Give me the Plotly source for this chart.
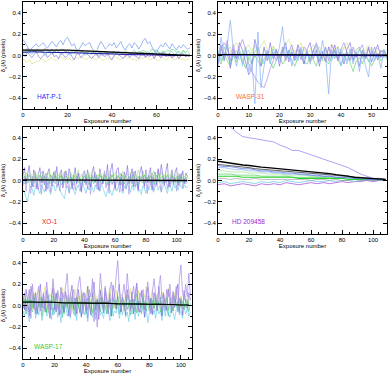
import plotly.graph_objects as go

# all series values are in units of 0.01 pixel

# ---------------- HAT-P-1 ----------------
hat_blue = [15, 12, 8, 5, 7, 9, 11, 8, 10, 12, 9, 7, 10, 13, 11, 8, 12, 14, 10, 15, 17, 13, 9, 11, 6, 5, 8, 12, 9, 11,
            12, 7, 4, 3, 9, 13, 10, 6, 8, 11, 9, 12, 7, 10, 13, 8, 5, 9, 11, 7, 12, 10, 6, 9, 14, 16, 11, 13, 8, 5,
            2, 7, 10, 8, 12, 9, 6, 11, 8, 5, 9, 7, 10, 8, 6, 7]
hat_green = [5, 4, 6, 3, 5, 4, 6, 5, 3, 4, 6, 5, 4, 5, 3, 6, 4, 5, 6, 4, 3, 5, 4, 2, 4, 5, 3, 4, 2, 3,
             4, 2, 3, 1, 3, 2, 4, 3, 1, 2, 3, 4, 2, 3, 1, 2, 4, 3, 2, 1, 3, 2, 4, 3, 5, 4, 2, 3, 6, 4,
             5, 3, 2, 4, 3, 5, 4, 6, 5, 3, 4, 2, 5, 3, 4, 2]
hat_yellow = [-3, -5, -6, -4, -8, -7, -5, -6, -3, -4, -6, -5, -3, -2, -4, -5, -3, -1, -3, -4, -2, -3, -5, -4, -2, -3,
              -1, -2, -4, -3, -2, -1, -3, -4, -2, -3, -5, -3, -2, -4, -3, -1, -2, -3, -4, -2, -1, -3, -2, -4, -3,
              -5, -4, -2, -3, -1, -2, -4, -3, -2, -4, -5, -3, -2, -4, -3, -1, -2, -4, -3, -2, -4, -3, -5, -3, -4]
hat_purple = [2, -1, 3, 0, -2, 1, 4, -1, -3, 0, 2, -2, 1, 3, -1, 0, -3, 2, 1, -2, 0, 3, -1, -4, 1, 2, -2, 0, 3, 1,
              -1, -3, 0, 2, -2, 1, 0, -1, 3, -2, -4, 0, 2, 1, -1, -3, 0, 1, -2, 2, 0, -1, -3, 1, 3, -2, 0, -1, 2,
              -3, 1, 0, -2, 3, -1, 0, 2, -2, -1, 1, -3, 0, 2, -1, 0, 1]
hat_cyan = [4, 2, 5, 3, 1, 4, 2, 3, 5, 2, 0, 3, 4, 1, 2, 5, 3, 1, 2, 4, 3, 0, 2, 3, 5, 1, 2, 4, 0, 3,
            2, 1, 4, 2, 0, 3, 1, 2, 4, 1, 3, 0, 2, 4, 1, 3, 2, 0, 1, 3, 5, 2, 1, 3, 0, 2, 4, 1, 3, 2,
            5, 3, 1, 4, 2, 0, 3, 4, 1, 2, 3, 1, 4, 2, 0, 1]
hat_pink = [6, 5, 7, 4, 6, 5, 3, 6, 4, 5, 7, 5, 4, 6, 3, 5, 4, 6, 5, 3, 4, 2, 5, 4, 3, 1, 4, 3, 2, 4,
            1, 3, 2, 0, 3, 2, 1, 3, 0, 2, 1, 3, 2, 0, 1, 2, -1, 1, 2, 0, 1, -1, 2, 0, 1, -1, 0, 2, 1, -1,
            0, 1, -2, 0, 1, -1, 0, -2, 1, 0, -1, 0, 1, -1, 0, -1]
hat_trend_x = [0, 5, 10, 15, 20, 25, 30, 35, 40, 45, 50, 55, 60, 65, 70, 75]
hat_black = [5, 5, 5, 5.5, 5, 4.5, 4, 3.5, 3, 2.5, 2, 1.5, 1, 0.5, 0.5, 0]
hat_navy = [3, 3.5, 3, 3, 2.5, 2.5, 2, 2, 1.5, 1, 1, 0.5, 0.5, 0, 0, 0]

# ---------------- WASP-31 ----------------
w31_blue = [-5, 17, 0, 10, 33, 5, -10, 2, -8, 8, -15, -5, -45, 22, -30, -10, 5, -8, 3, -5, 8, 27, -2, 5, -10, 2, -5, 8,
            -3, 5, -8, 3, 10, -5, 14, 0, -36, 5, -3, 8, -10, 2, -5, 6, -8, 3, -15, 5, -10, -20, 8, -5, 2, -12, 5, -3]
w31_purple = [-10, 5, 12, 8, -5, 10, -3, 8, 15, 5, -8, -15, -20, -25, -28, -30, -22, -12, -5, 5, -3, 8, -5, 3, 10, -2,
              6, -4, 8, 3, -6, 5, 12, 4, -3, 8, -5, 10, 2, -4, 6, 12, 3, -5, 8, -2, 5, 10, -3, 6, 0, 8, -4, 5, 2, -2]
w31_yellow = [8, 4, 10, 6, 2, 8, 12, 5, 0, 6, 10, 4, -2, 5, 8, 14, 6, 2, 9, 4, -3, 6, 10, 15, 8, 3, 7, 12, 5, 0,
              6, 10, 4, 8, 2, -4, 6, 11, 5, 9, 3, 7, 12, 4, -6, 5, 8, 2, 6, 10, 4, 0, 7, 3, 5, 4]
w31_green = [-3, -8, 2, -5, -10, 0, -6, 3, -4, -12, -2, -8, 0, -5, -10, -3, 2, -6, -12, -4, 0, -8, -3, 5, -5, -10, -2,
             3, -6, -8, 0, -4, -10, 2, -5, -3, -8, 0, 5, -4, -9, -2, 3, -7, -15, -5, -2, -8, 0, -4, -10, -3, 2, -5, -1, -4]
w31_cyan = [5, -5, 8, 0, -8, 3, -3, 6, -10, 2, 5, -6, 3, 8, -2, -8, 4, -4, 6, 0, -6, 3, 8, -3, 5, -5, 0, 6, -8, 2,
            -4, 5, 0, -6, 3, 7, -2, -5, 4, -3, 6, 0, -8, 3, -4, 5, 8, -3, 2, -6, 4, 0, -4, 3, 6, -2]
w31_ltgreen = [2, 6, -3, 4, 8, 0, 5, -4, 3, 7, -2, 4, 10, 2, -5, 6, 3, -2, 8, 4, 0, 5, -3, 2, 7, 4, -2, 6, 0, 3,
               -5, 4, 8, 2, -3, 5, 1, 6, -2, 4, 0, 8, 3, -4, 5, 2, 6, -1, 3, 7, 0, 4, -2, 5, 3, 1]
w31_violet = [-8, 10, -5, 14, -12, 6, -3, 12, 5, -8, -18, -12, 15, 3, -10, 8, -5, 12, -3, 6, -10, 4, 12, -6, 3, -4,
              10, 0, -8, 6, 12, -3, 5, -10, 4, -6, 8, -2, 10, -5, 3, -8, 6, 12, -4, 2, -10, 5, -3, 8, -6, 3, 10, -2, 4, 0]
w31_trend_x = [0, 5, 10, 15, 20, 25, 30, 35, 40, 45, 50, 55]
w31_black = [1, 1, 1, 1, 1, 1, 0.5, 0.5, 0.5, 0.5, 0.5, 0.5]
w31_navy = [0.5, 0.5, 0, 0.5, 0, 0, 0, 0, 0, 0, 0, 0]

# ---------------- XO-1 ----------------
xo_purple = [5, 12, -3, 8, 14, 2, -6, 10, 4, -8, 6, 12, -2, 9, 3, -10, 7, 11, 0, -5, 8, 2, 13, -4, 6, 10, -7, 3, 9, -2,
             11, 5, -8, 4, 12, -3, 7, 1, -10, 6, 9, -4, 10, 3, -6, 8, 13, -2, 5, -9, 11, 4, -3, 7, 2, 15, -5, 9, 16, 3,
             -7, 10, 12, -4, 6, -10, 8, 2, 14, -3, 5, 11, -6, 9, 1, -8, 7, 13, 3, -5, 10, -2, 6, 12, -9, 4, 8, -3, 11,
             2, 15, 7, -4, 9, 16, -6, 3, 10, -2, 8, 12, -5, 6, 1, 9, -3, 7, 4]
xo_violet = [-5, 3, -10, 6, -2, -12, 4, -6, 8, -3, -9, 2, -13, 5, -4, 7, -8, 1, -11, 4, -2, 9, -6, -1, -10, 5, -3, 8,
             -7, 2, -12, 6, -4, 3, -9, 1, 7, -5, -11, 4, -2, 6, -8, 3, -13, 5, -1, 8, -6, 2, -10, 4, -3, 9, -7, 1, -12,
             6, -4, 2, -9, 5, -2, -11, 7, -5, 3, -8, 1, -13, 6, -3, 8, -6, 2, -10, 4, -1, 9, -7, 3, -12, 5, -4, 7, -9,
             2, -5, 10, -3, -11, 6, -2, 4, -8, 1, -6, 8, -4, 3, -10, 5, -2, 7, -7, 1, -3, 4]
xo_cyan = [-8, -12, -15, -20, -10, -5, -8, -14, -6, -3, -9, -12, -4, -7, -11, -5, -2, -8, -13, -6, -4, -10, -7, -3, -9,
           -12, -14, -17, -8, -5, -11, -6, -3, -9, -13, -7, -4, -10, -6, -2, -8, -12, -5, -9, -3, -7, -11, -4, -8, -6,
           -10, -3, -7, -13, -15, -9, -5, -11, -14, -8, -4, -10, -6, -3, -9, -12, -5, -8, -2, -7, -11, -4, -9, -6, -3,
           -10, -8, -13, -5, -7, -12, -4, -9, -3, -8, -11, -6, -2, -9, -5, -10, -7, -3, -8, -12, -4, -6, -10, -2, -7,
           -5, -9, -3, -6, -8, -4, -7, -5]
xo_green = [2, 4, 1, 3, 5, 2, 0, 3, 4, 1, 2, 5, 3, 1, 4, 2, 0, 3, 5, 2, 1, 4, 3, 0, 2, 5, 1, 3, 4, 2, 0, 3, 1, 5, 2, 4,
            1, 3, 0, 2, 4, 3, 1, 5, 2, 0, 3, 4, 1, 2, 5, 3, 0, 2, 4, 1, 3, 2, 5, 1, 0, 3, 4, 2, 1, 5, 3, 0, 2, 4, 1, 3,
            5, 2, 0, 4, 1, 3, 2, 5, 1, 3, 0, 4, 2, 1, 3, 5, 2, 0, 3, 4, 1, 2, 5, 3, 1, 4, 2, 0, 3, 1, 4, 2, 3, 1, 2, 3]
xo_teal = [-1, -3, 0, -2, 1, -1, -4, 0, -2, -3, 1, -1, -2, 0, -4, -1, 1, -3, -2, 0, -1, -3, 1, -2, 0, -4, -1, -2, 1, -3,
           0, -1, -2, -4, 0, 1, -2, -1, -3, 0, -2, 1, -1, -4, -2, 0, -3, 1, -1, -2, 0, -3, -1, 1, -2, -4, 0, -1, -3, -2,
           1, 0, -2, -1, -4, 0, -3, -1, 1, -2, 0, -3, -1, -2, 1, -4, 0, -1, -2, -3, 0, 1, -2, -1, -3, 0, -4, -1, 1, -2,
           0, -3, -1, -2, 1, 0, -3, -2, -1, 0, -2, -1, -3, 0, -1, -2, 0, -1]
xo_ltgreen = [6, 3, 8, 2, 5, 7, 1, 4, 9, 3, 6, 2, 8, 5, 1, 7, 4, 9, 2, 6, 3, 8, 0, 5, 7, 2, 4, 9, 3, 6, 1, 8, 5, 2, 7,
              4, 10, 3, 6, 1, 8, 4, 2, 7, 5, 9, 3, 1, 6, 4, 8, 2, 5, 7, 0, 4, 9, 3, 6, 2, 8, 5, 1, 7, 3, 9, 4, 2, 6, 5,
              8, 1, 4, 7, 3, 10, 5, 2, 6, 4, 8, 1, 3, 7, 5, 9, 2, 4, 6, 1, 8, 3, 5, 7, 2, 6, 4, 9, 1, 5, 3, 7, 4, 2, 6,
              3, 5, 4]
xo_trend_x = [0, 10, 20, 30, 40, 50, 60, 70, 80, 90, 100, 107]
xo_black = [0.5, 0.5, 0.5, 0.5, 0, 0, 0, 0, 0, 0, 0, 0]

# ---------------- HD 209458 ----------------
hd_x = [0, 4, 8, 12, 16, 20, 24, 28, 32, 36, 40, 44, 48, 52, 56, 60, 64, 68, 72, 76, 80, 84, 88, 92, 96, 100, 104, 108]
hd_lav = [58, 55, 50, 45, 41, 40, 39, 38, 37, 36, 33, 31, 28, 28, 26, 24, 22, 20, 18, 16, 14, 12, 9, 6, 4, 2, 2, 1]
hd_black = [18, 17, 16, 15.5, 14.5, 14, 13, 12.5, 12, 11.5, 11, 10.5, 10, 9, 8.5, 8, 7.5, 7, 6.5, 5.5, 5, 4, 3, 2.5,
            2, 1.5, 1, 1]
hd_gray = [15, 14.5, 14, 13, 12.5, 12, 11, 10.5, 10, 9.5, 9, 8.5, 8, 7.5, 7, 6.5, 6, 5.5, 5, 4.5, 4, 3.5, 3, 2.5, 2,
           1.5, 1, 1]
hd_blue = [14, 13, 13, 12, 11, 11, 10, 9, 9, 8, 8, 7, 7, 6, 6, 5, 5, 4, 4, 3, 3, 3, 2, 2, 1, 1, 1, 1]
hd_ltblue = [12, 12, 11, 10, 10, 9, 9, 8, 8, 7, 7, 6, 6, 6, 5, 5, 4, 4, 4, 3, 3, 2, 2, 2, 1, 1, 1, 1]
hd_green1 = [9, 9, 8, 8, 8, 7, 7, 7, 6, 6, 6, 5, 5, 5, 5, 4, 4, 4, 3, 3, 3, 3, 2, 2, 2, 1, 1, 1]
hd_green2 = [6, 6, 6, 5, 5, 5, 5, 4, 4, 4, 4, 4, 3, 3, 3, 3, 3, 3, 2, 2, 2, 2, 2, 1, 1, 1, 1, 1]
hd_lime = [4, 4, 4, 4, 3, 3, 3, 3, 3, 3, 3, 3, 3, 2, 2, 2, 2, 2, 2, 2, 2, 1, 1, 1, 1, 1, 1, 1]
hd_cyan = [-2, -1, -3, -2, -1, -2, -3, -1, -2, -1, -2, 0, -1, -2, -1, 0, -1, -1, 0, -1, 0, 0, -1, 0, 1, 0, 0, 0]
hd_violet = [-4, -3, -5, -4, -3, -4, -5, -3, -4, -3, -4, -2, -3, -4, -3, -2, -3, -2, -3, -2, -1, -2, -1, -1, 0, -1, 0, 0]
hd_gray2 = [2, 2, 1, 2, 1, 1, 2, 1, 1, 1, 1, 1, 1, 1, 1, 0, 1, 1, 0, 1, 0, 0, 1, 0, 0, 0, 0, 0]

# ---------------- WASP-17 ----------------
w17_lav = [5, 12, -5, 8, 15, -12, 20, 3, -8, 10, 18, -5, 6, 12, -3, 22, 8, -10, 5, 25, 10, -6, 14, 3, -8, 12, 6, 18,
           30, 4, -10, 8, 15, -4, 10, 20, 27, 5, -8, 12, 6, -12, 15, 8, 25, -15, 5, -20, 10, 30, 12, -5, 18, 6, -8, 15,
           22, 4, 10, 28, 42, 15, -3, 10, 20, 6, 30, 12, -5, 8, 18, 4, 20, -6, 12, 8, 15, -4, 10, 22, 5, -8, 14, 25, 10,
           -3, 18, 28, 6, 12, -5, 15, 8, 20, -2, 10, 5, 18, -6, 25, 38, 12, 5, 20, 8, 30, 10]
w17_violet = [8, -4, 15, 2, -10, 18, 6, -3, 12, -8, 5, 20, -2, 10, -6, 14, 3, -12, 8, 16, -4, 11, 2, -9, 17, 5, -6, 13,
              0, -10, 9, 19, -3, 7, -8, 15, 4, -11, 12, 6, -5, 18, 1, -9, 10, 22, -4, 6, -13, 14, 3, -7, 16, 8, -2, 11,
              -10, 19, 5, -3, 12, 20, -6, 8, 2, -9, 15, 4, -4, 13, -8, 10, 21, 0, -6, 14, 5, -11, 9, 17, -2, 7, -8, 12,
              3, -5, 18, 6, -10, 11, 1, -4, 15, 8, -7, 13, -2, 10, 20, -5, 6, -9, 14, 3, -3, 12, 5]
w17_cyan = [-5, -10, 2, -8, -15, 0, -6, 4, -12, -3, -9, 3, -14, -5, 1, -10, -7, 5, -13, -2, -8, 2, -11, -4, -16, 0, -7,
            3, -10, -5, -12, 1, -8, -3, -14, 4, -6, -10, 0, -9, -4, -15, 2, -7, -11, -1, -13, -5, 3, -9, -6, -12, 0, -8,
            -3, -14, 2, -10, -5, -7, 1, -12, -4, -9, 3, -11, -6, -15, 0, -8, -2, -13, 4, -10, -5, -7, 1, -11, -3, -16,
            -6, 2, -9, -4, -12, 0, -8, -5, -14, 3, -10, -2, -7, -11, 1, -6, -13, -4, 2, -9, -5, -12, 0, -8, -3, -10, -6]
w17_yellow = [4, 10, -2, 8, 14, 3, -5, 12, 6, 0, 15, 5, -3, 9, 18, 2, -6, 11, 7, 20, 3, -4, 13, 8, 1, 16, 5, -2, 10, 4,
              12, -5, 7, 15, 2, 9, -3, 14, 6, 0, 11, 18, 3, -6, 8, 13, 1, 9, -4, 15, 6, 2, 12, -3, 8, 17, 4, 10, -2, 14,
              5, 0, 11, 7, -5, 13, 3, 9, 16, 1, -4, 10, 6, 14, 2, -3, 12, 8, 18, 4, -1, 9, 15, 3, -6, 11, 7, 0, 13, 5,
              -2, 10, 16, 3, 8, -4, 12, 6, 14, 1, 9, -3, 11, 5, 7, 2, 8]
w17_green = [2, -4, 6, 0, -6, 5, -2, 8, 1, -5, 4, -1, 7, -3, 3, -7, 5, 0, -4, 9, 2, -6, 4, -2, 6, 1, -8, 3, -1, 7, -3,
             5, 0, -5, 8, 2, -6, 4, -2, 6, 0, -4, 9, 1, -7, 3, -1, 5, -3, 7, 2, -5, 4, 0, -8, 6, 1, -3, 5, -2, 8, 0, -6,
             3, -1, 7, -4, 2, 5, -3, 6, 0, -7, 4, 1, -2, 8, -4, 3, 0, -5, 6, 2, -3, 7, -1, 4, -6, 5, 1, -2, 8, -4, 3,
             0, -5, 6, 2, -3, 7, -1, 4, 0, -2, 5, 1]
w17_teal = [-3, 6, -8, 3, 9, -5, 1, 11, -6, 4, -2, 8, -10, 5, 2, -7, 10, -3, 6, -9, 3, 12, -4, 0, 7, -11, 5, -2, 9, -6,
            2, 8, -4, -10, 6, 1, -7, 10, -3, 4, -8, 7, 2, -5, 11, -1, -9, 5, 3, -6, 8, -2, 12, -7, 4, 0, -10, 6, 2, -4,
            9, -8, 3, 7, -5, 1, 10, -3, -9, 6, 2, -6, 11, -1, 4, -8, 7, 0, -5, 9, 3, -7, 5, -2, 10, -4, 1, 8, -9, 3, 6,
            -3, -10, 7, 2, -5, 9, -1, 4, -7, 8, 0, -4, 6, 3, -6, 2]
w17_trend_x = [0, 5, 10, 15, 20, 25, 30, 35, 40, 45, 50, 55, 60, 65, 70, 75, 80, 85, 90, 95, 100, 105]
w17_black = [3, 3, 3.5, 3, 3, 2.5, 2.5, 2.5, 2, 2, 2, 2, 1.5, 1.5, 1.5, 1, 1, 1, 1, 1, 0.5, 0.5]
w17_dkgreen = [3.5, 4, 3, 3.5, 3, 3, 2.5, 3, 2.5, 2, 2.5, 2, 2, 1.5, 2, 1.5, 1, 1.5, 1, 1, 1, 0.5]

targets = ["HAT-P-1", "WASP-31", "XO-1", "HD 209458", "WASP-17"]
target_colors = ["#2a2aff", "#ff6a3a", "#e8231e", "#a02ad0", "#3ac83a"]
x_max = [76, 55, 110, 109, 107]
x_dtick = [20, 10, 20, 20, 20]
x_minor = [5, 2, 5, 5, 5]
label_x = [5.5, 5.1, 10.8, 7.9, 5.7]

LAV, VIO, BLU, LBL, CYA = "#a98ae8", "#7a62e0", "#6f98ee", "#86b2f6", "#5cc8e6"
GRN, LGR, YEL, TEAL, PNK = "#4ccf5a", "#a4e488", "#d6e070", "#48c4a4", "#d98ae2"


def noisy(vals):
    return list(range(len(vals))), vals


panel_series = [
    [(noisy(hat_yellow), YEL, 0.6), (noisy(hat_purple), VIO, 0.6), (noisy(hat_cyan), CYA, 0.6),
     (noisy(hat_pink), PNK, 0.6), (noisy(hat_green), GRN, 0.6), (noisy(hat_blue), BLU, 0.7),
     ((hat_trend_x, hat_navy), "#1a1aa0", 1.0), ((hat_trend_x, hat_black), "#000000", 1.3)],
    [(noisy(w31_ltgreen), LGR, 0.6), (noisy(w31_yellow), YEL, 0.6), (noisy(w31_green), GRN, 0.6),
     (noisy(w31_cyan), CYA, 0.6), (noisy(w31_violet), VIO, 0.6), (noisy(w31_purple), LAV, 0.7),
     (noisy(w31_blue), LBL, 0.7), ((w31_trend_x, w31_navy), "#1a1aa0", 1.3),
     ((w31_trend_x, w31_black), "#000000", 1.0)],
    [(noisy(xo_cyan), CYA, 0.6), (noisy(xo_violet), LAV, 0.6), (noisy(xo_purple), VIO, 0.6),
     (noisy(xo_ltgreen), LGR, 0.6), (noisy(xo_teal), TEAL, 0.6), (noisy(xo_green), GRN, 0.6),
     ((xo_trend_x, xo_black), "#000000", 1.3)],
    [((hd_x, hd_lav), "#8a7cf0", 0.7), ((hd_x, hd_violet), "#a040d8", 0.7), ((hd_x, hd_cyan), CYA, 0.7),
     ((hd_x, hd_gray2), "#909090", 0.6), ((hd_x, hd_green1), LGR, 0.7), ((hd_x, hd_green2), GRN, 0.7),
     ((hd_x, hd_lime), "#30d030", 1.1), ((hd_x, hd_ltblue), LBL, 0.7), ((hd_x, hd_blue), "#4a6ae8", 0.7),
     ((hd_x, hd_gray), "#505050", 0.9), ((hd_x, hd_black), "#000000", 1.3)],
    [(noisy(w17_cyan), CYA, 0.6), (noisy(w17_teal), TEAL, 0.6), (noisy(w17_yellow), YEL, 0.6),
     (noisy(w17_green), GRN, 0.6), (noisy(w17_violet), VIO, 0.6), (noisy(w17_lav), LAV, 0.7),
     ((w17_trend_x, w17_dkgreen), "#1f7a3a", 1.1), ((w17_trend_x, w17_black), "#000000", 1.1)],
]

W, H = 390, 375
col_dom = [[23 / W, 192 / W], [218 / W, 387 / W]]
row_dom = [[1 - 109 / H, 1 - 2 / H], [1 - 234 / H, 1 - 127 / H], [1 - 359 / H, 1 - 252 / H]]
FONT = "Liberation Sans"

fig = go.Figure()
layout = dict(width=W, height=H, margin=dict(l=0, r=0, t=0, b=0, pad=0), showlegend=False,
              paper_bgcolor="white", plot_bgcolor="white",
              font=dict(family=FONT, size=6, color="black"))
annotations = []

for i, name in enumerate(targets):
    r, c = divmod(i, 2)
    n = "" if i == 0 else str(i + 1)
    for (xs, ys), color, width in panel_series[i]:
        fig.add_trace(go.Scatter(x=xs, y=[v / 100 for v in ys], mode="lines",
                                 line=dict(color=color, width=width),
                                 xaxis="x" + n, yaxis="y" + n, hoverinfo="skip"))
    layout["xaxis" + n] = dict(
        domain=col_dom[c], anchor="y" + n, range=[0, x_max[i]], dtick=x_dtick[i], tick0=0,
        automargin=False, showline=True, linecolor="black", linewidth=1, mirror="allticks",
        ticks="inside", ticklen=4, tickcolor="black", tickwidth=0.7,
        minor=dict(ticks="inside", ticklen=2, dtick=x_minor[i], tickcolor="black", tickwidth=0.7),
        showgrid=False, zeroline=False, tickfont=dict(size=6),
        title=dict(text="Exposure number", font=dict(size=6), standoff=1))
    layout["yaxis" + n] = dict(
        domain=row_dom[r], anchor="x" + n, range=[-0.5, 0.5], automargin=False,
        tickvals=[-0.4, -0.2, 0.0, 0.2, 0.4], ticktext=["\u22120.4", "\u22120.2", "0.0", "0.2", "0.4"],
        showline=True, linecolor="black", linewidth=1, mirror="allticks",
        ticks="inside", ticklen=4, tickcolor="black", tickwidth=0.7,
        minor=dict(ticks="inside", ticklen=2, dtick=0.1, tickcolor="black", tickwidth=0.7),
        showgrid=False, zeroline=False, tickfont=dict(size=6),
        title=dict(text="\u03b4<sub>x</sub>(\u03bb) (pixels)", font=dict(size=6), standoff=2))
    annotations.append(dict(x=label_x[i], y=-0.385, xref="x" + n, yref="y" + n, text=name,
                            showarrow=False, xanchor="left", yanchor="middle",
                            font=dict(size=6.5, color=target_colors[i])))

layout["annotations"] = annotations
fig.update_layout(**layout)
fig.write_html("out.html", config={"displayModeBar": False},
               post_script="document.body.style.margin='0px';document.body.style.overflow='hidden';")
